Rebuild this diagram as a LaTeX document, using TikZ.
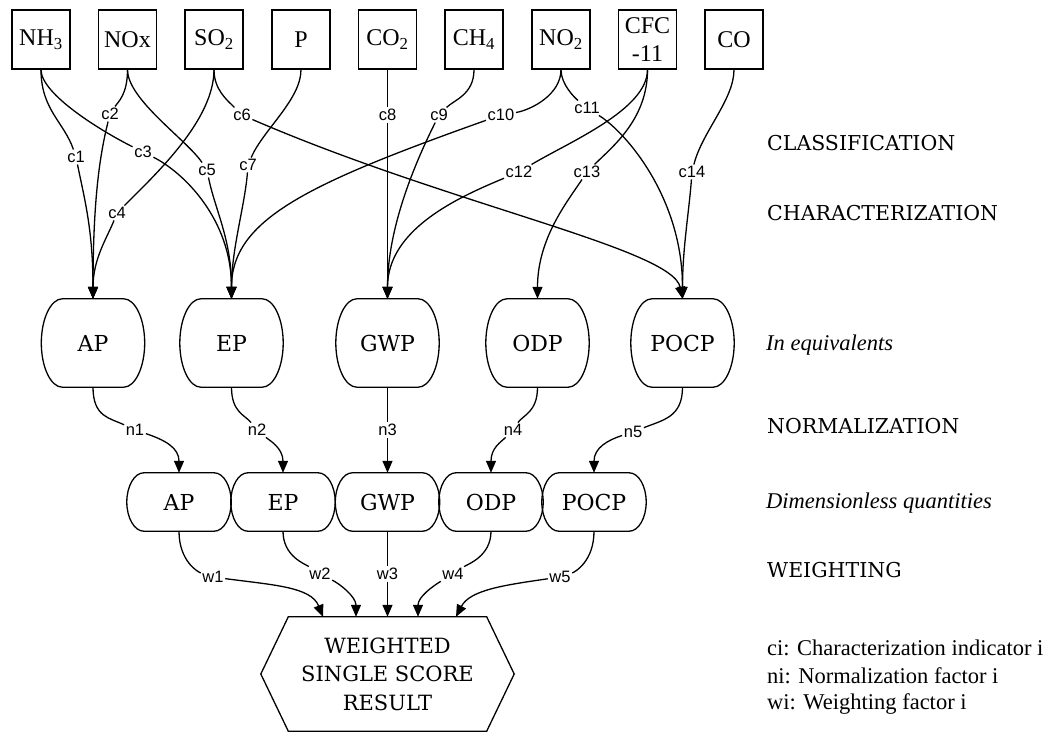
\documentclass[tikz,border=0pt]{standalone}
\usepackage{fontspec}
\setmainfont{Liberation Serif}
\newfontfamily\slab{DejaVu Serif}
\newfontfamily\lsans{Liberation Sans}
\usetikzlibrary{arrows.meta,calc}
\newcommand\bulgebox[3]{%
  \draw[line width=1.3pt] ($(#1.north west)+(#2,0)$) -- ($(#1.north east)+(-#2,0)$)
   .. controls ($(#1.north east)+(-0.45*#2,0)$) and ($(#1.east)+(0,-#3)$) .. (#1.east)
   .. controls ($(#1.east)+(0,#3)$) and ($(#1.south east)+(-0.45*#2,0)$) .. ($(#1.south east)+(-#2,0)$)
   -- ($(#1.south west)+(#2,0)$)
   .. controls ($(#1.south west)+(0.45*#2,0)$) and ($(#1.west)+(0,#3)$) .. (#1.west)
   .. controls ($(#1.west)+(0,-#3)$) and ($(#1.north west)+(0.45*#2,0)$) .. cycle;}
\tikzset{
  box/.style={draw, line width=1.3pt, minimum width=58pt, minimum height=59pt, inner sep=0pt,
    font=\fontsize{24}{28}\selectfont, align=center},
  mid/.style={minimum width=103pt, minimum height=88pt, inner sep=0pt, font=\slab\fontsize{22}{26}\selectfont},
  low/.style={minimum width=104pt, minimum height=58pt, inner sep=0pt, font=\slab\fontsize{22}{26}\selectfont},
  resbox/.style={minimum width=253pt, minimum height=114pt, inner sep=0pt, align=center,
    font=\slab\fontsize{21}{28.5}\selectfont},
  lab/.style={font=\lsans\fontsize{16.5}{18}\selectfont, inner sep=1.5pt},
  edge/.style={line width=1.3pt},
  arr/.style={edge, -{Triangle[length=12pt,width=10pt]}},
  side/.style={anchor=base west, inner sep=0pt, font=\slab\fontsize{20.5}{24}\selectfont},
  ital/.style={anchor=base west, inner sep=0pt, font=\itshape\fontsize{22.5}{26}\selectfont},
  leg/.style={anchor=base west, inner sep=0pt, font=\fontsize{22.5}{26}\selectfont}
}
\begin{document}
\begin{tikzpicture}[x=1pt,y=-1pt]
\fill[white] (0,0) rectangle (1060,733);
\useasboundingbox (0,0) rectangle (1060,733);
% top boxes
\node[box] (nh3) at (41,39.5) {NH\textsubscript{3}};
\node[box] (nox) at (127.5,39.5) {NOx};
\node[box] (so2) at (214,39.5) {SO\textsubscript{2}};
\node[box] (p) at (301,39.5) {P};
\node[box] (co2) at (387.5,39.5) {CO\textsubscript{2}};
\node[box] (ch4) at (474,39.5) {CH\textsubscript{4}};
\node[box] (no2) at (561,39.5) {NO\textsubscript{2}};
\node[box] (cfc) at (647.5,39.5) {CFC\\-11};
\node[box] (co) at (734,39.5) {CO};
% equivalents
\node[mid] (ap1) at (93,343) {AP};
\node[mid] (ep1) at (231.5,343) {EP};
\node[mid] (gwp1) at (387.5,343) {GWP};
\node[mid] (odp1) at (537.5,343) {ODP};
\node[mid] (pocp1) at (682.5,343) {POCP};
\foreach \n in {ap1,ep1,gwp1,odp1,pocp1} {\bulgebox{\n}{21}{24}}
% dimensionless
\node[low] (ap2) at (179,502) {AP};
\node[low] (ep2) at (283,502) {EP};
\node[low] (gwp2) at (387.5,502) {GWP};
\node[low] (odp2) at (491,502) {ODP};
\node[low] (pocp2) at (594,502) {POCP};
\foreach \n in {ap2,ep2,gwp2,odp2,pocp2} {\bulgebox{\n}{17}{16}}
% result
\node[resbox] (res) at (387.5,674) {WEIGHTED\\SINGLE SCORE\\RESULT};
\draw[line width=1.3pt] (res.west) -- ($(res.north west)+(27.5,0)$) -- ($(res.north east)+(-27.5,0)$)
  -- (res.east) -- ($(res.south east)+(-27.5,0)$) -- ($(res.south west)+(27.5,0)$) -- cycle;
% labels
\node[lab] (c1) at (76,157) {c1};
\node[lab] (c2) at (110,114) {c2};
\node[lab] (c3) at (143,152) {c3};
\node[lab] (c4) at (117,213) {c4};
\node[lab] (c5) at (207,170) {c5};
\node[lab] (c6) at (242,115) {c6};
\node[lab] (c7) at (248,165) {c7};
\node[lab] (c8) at (387.5,115) {c8};
\node[lab] (c9) at (439,115) {c9};
\node[lab] (c10) at (501,115) {c10};
\node[lab] (c11) at (587,108) {c11};
\node[lab] (c12) at (519,172) {c12};
\node[lab] (c13) at (587,172) {c13};
\node[lab] (c14) at (692,172) {c14};
\node[lab] (n1) at (135,430) {n1};
\node[lab] (n2) at (257,430) {n2};
\node[lab] (n3) at (387.5,430) {n3};
\node[lab] (n4) at (513,430) {n4};
\node[lab] (n5) at (633,432) {n5};
\node[lab] (w1) at (213,577) {w1};
\node[lab] (w2) at (320,574) {w2};
\node[lab] (w3) at (387.5,574) {w3};
\node[lab] (w4) at (453,574) {w4};
\node[lab] (w5) at (560,577) {w5};
% classification / characterization edges
\draw[edge] (nh3.south) .. controls +(0,40) and +(-12,-35) .. (c1);
\draw[arr] (c1) .. controls +(8,40) and +(0,-70) .. (ap1.north);
\draw[edge] (nox.south) .. controls +(0,25) and +(8,-12) .. (c2);
\draw[arr] (c2) .. controls +(-10,40) and +(0,-100) .. (ap1.north);
\draw[edge] (nh3.south) .. controls +(0,25) and +(-40,-20) .. (c3);
\draw[arr] (c3) .. controls +(40,20) and +(0,-80) .. (ep1.north);
\draw[edge] (so2.south) .. controls +(0,50) and +(40,-40) .. (c4);
\draw[arr] (c4) .. controls +(-10,25) and +(0,-40) .. (ap1.north);
\draw[edge] (nox.south) .. controls +(0,30) and +(-20,-30) .. (c5);
\draw[arr] (c5) .. controls +(8,40) and +(0,-60) .. (ep1.north);
\draw[edge] (so2.south) .. controls +(0,20) and +(-15,-15) .. (c6);
\draw[arr] (c6) .. controls +(208,90) and +(-10,-50) .. (pocp1.north);
\draw[edge] (p.south) .. controls +(0,30) and +(15,-35) .. (c7);
\draw[arr] (c7) .. controls +(-3,40) and +(0,-50) .. (ep1.north);
\draw[edge] (co2.south) -- (c8);
\draw[arr] (c8) -- (gwp1.north);
\draw[edge] (ch4.south) .. controls +(0,25) and +(15,-15) .. (c9);
\draw[arr] (c9) .. controls +(-25,50) and +(0,-70) .. (gwp1.north);
\draw[edge] (no2.south) .. controls +(0,25) and +(30,-5) .. (c10);
\draw[arr] (c10) .. controls +(-194,69) and +(0,-79) .. (ep1.north);
\draw[edge] (no2.south) .. controls +(0,15) and +(-12,-10) .. (c11);
\draw[arr] (c11) .. controls +(40,25) and +(0,-100) .. (pocp1.north);
\draw[edge] (cfc.south) .. controls +(0,40) and +(50,-30) .. (c12);
\draw[arr] (c12) .. controls +(-60,25) and +(0,-70) .. (gwp1.north);
\draw[edge] (cfc.south) .. controls +(0,50) and +(25,-25) .. (c13);
\draw[arr] (c13) .. controls +(-20,30) and +(0,-60) .. (odp1.north);
\draw[edge] (co.south) .. controls +(0,30) and +(10,-40) .. (c14);
\draw[arr] (c14) .. controls +(-3,40) and +(0,-50) .. (pocp1.north);
% normalization edges
\draw[edge] (ap1.south) .. controls +(0,30) and +(-25,-12) .. (n1);
\draw[arr] (n1) .. controls +(30,10) and +(0,-25) .. (ap2.north);
\draw[edge] (ep1.south) .. controls +(0,25) and +(-12,-15) .. (n2);
\draw[arr] (n2) .. controls +(12,10) and +(0,-25) .. (ep2.north);
\draw[edge] (gwp1.south) -- (n3);
\draw[arr] (n3) -- (gwp2.north);
\draw[edge] (odp1.south) .. controls +(0,25) and +(10,-15) .. (n4);
\draw[arr] (n4) .. controls +(-12,12) and +(0,-25) .. (odp2.north);
\draw[edge] (pocp1.south) .. controls +(0,30) and +(30,-12) .. (n5);
\draw[arr] (n5) .. controls +(-25,8) and +(0,-25) .. (pocp2.north);
% weighting edges
\draw[edge] (ap2.south) .. controls +(0,30) and +(-15,-5) .. (w1);
\draw[arr] (w1) .. controls +(60,8) and +(-12,-30) .. ([xshift=-64.5pt]res.north);
\draw[edge] (ep2.south) .. controls +(0,25) and +(-15,-10) .. (w2);
\draw[arr] (w2) .. controls +(20,10) and +(0,-20) .. ([xshift=-31.5pt]res.north);
\draw[edge] (gwp2.south) -- (w3);
\draw[arr] (w3) -- (res.north);
\draw[edge] (odp2.south) .. controls +(0,25) and +(15,-10) .. (w4);
\draw[arr] (w4) .. controls +(-20,12) and +(0,-20) .. ([xshift=30.5pt]res.north);
\draw[edge] (pocp2.south) .. controls +(0,30) and +(15,-5) .. (w5);
\draw[arr] (w5) .. controls +(-55,8) and +(14,-27) .. ([xshift=68.5pt]res.north);
% side texts
\node[side] (cls) at (767,150) {CLASSIFICATION};
\node[side] (chr) at (767,220) {CHARACTERIZATION};
\node[ital] (ineq) at (766,350) {In equivalents};
\node[side] (nor) at (767,433) {NORMALIZATION};
\node[ital] (dim) at (766,508) {Dimensionless quantities};
\node[side] (wei) at (767,577) {WEIGHTING};
\node[leg] (l1) at (767,655) {ci: Characterization indicator i};
\node[leg] (l2) at (767,683) {ni: Normalization factor i};
\node[leg] (l3) at (767,709) {wi: Weighting factor i};
\end{tikzpicture}
\end{document}
